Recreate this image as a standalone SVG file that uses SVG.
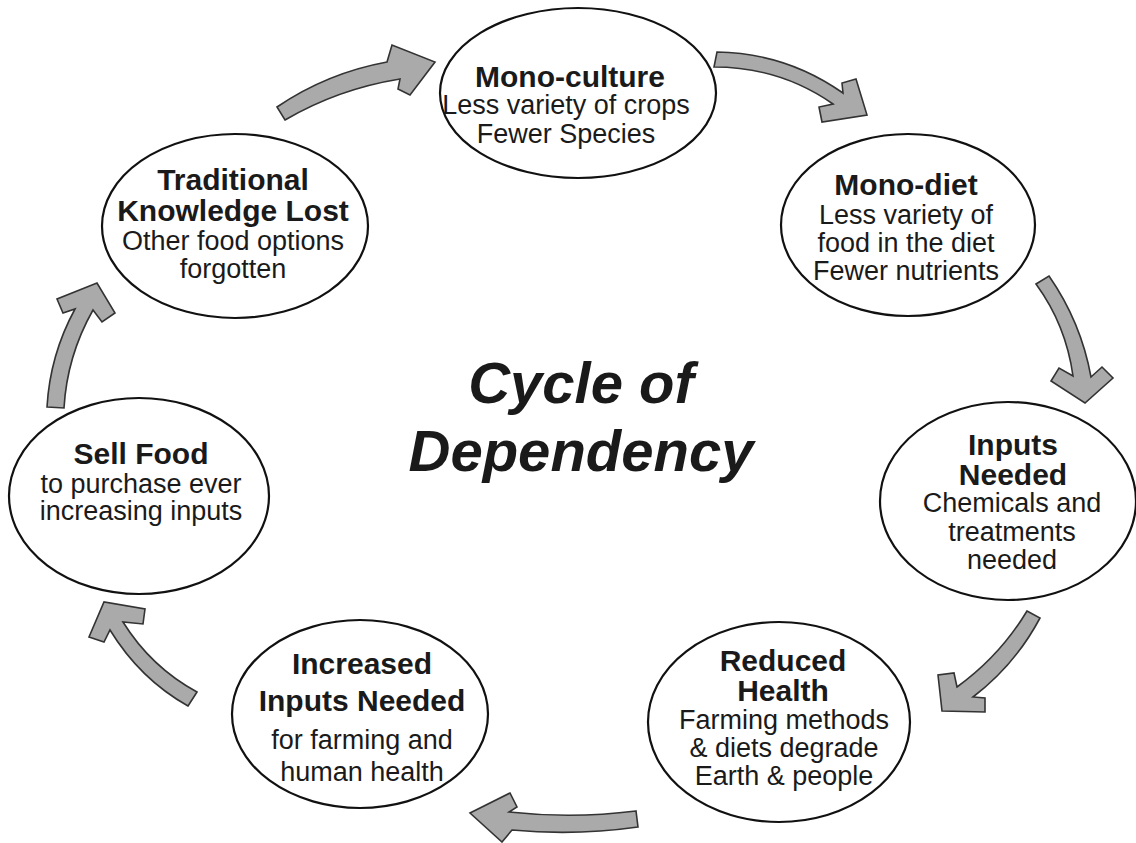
<svg xmlns="http://www.w3.org/2000/svg" width="1136" height="843" viewBox="0 0 1136 843">
<style>
.node ellipse{fill:#fff;stroke:#111;stroke-width:2.2}
.b{font-family:"Liberation Sans",Arial,sans-serif;font-weight:bold;font-size:30px;fill:#1a1a1a;text-anchor:middle}
.r{font-family:"Liberation Sans",Arial,sans-serif;font-size:27px;fill:#1a1a1a;text-anchor:middle}
.arrow{fill:#aaaaaa;stroke:#333;stroke-width:1.6;stroke-linejoin:miter}
.title{font-family:"Liberation Sans",Arial,sans-serif;font-weight:bold;font-style:italic;font-size:58px;fill:#1a1a1a;text-anchor:middle}
</style>
<rect width="1136" height="843" fill="#fff"/>
<g id="connectors">
<path class="arrow" d="M277,107 Q327,73 387,62 L392,45 L435,62 L410,95 L398,89 L400,79 Q338,89 285,120 Z"/>
<path class="arrow" d="M717,52 Q786,53 843,93 L842,83 L856,79 L867,115 L822,122 L819,107 L833,104 Q780,67 714,67 Z"/>
<path class="arrow" d="M1036,284 L1049,276 Q1081,322 1091,377 L1102,367 L1113,378 L1085,403 L1051,381 L1059,368 L1073,376 Q1066,325 1036,284 Z"/>
<path class="arrow" d="M1027,611 L1040,618 Q1015,665 973,697 L985,698 L985,712 L942,711 L938,675 L954,673 L957,687 Q1000,656 1027,611 Z"/>
<path class="arrow" d="M636,811 Q573,819 509,812 L517,807 L510,793 L470,813 L502,842 L512,830 Q575,836 638,827 Z"/>
<path class="arrow" d="M188,706 L197,692 Q151,667 123,622 L143,624 L145,609 L104,602 L89,637 L104,642 L110,630 Q140,679 188,706 Z"/>
<path class="arrow" d="M47,407 L64,408 Q67,356 93,310 L102,322 L115,313 L97,283 L57,299 L63,313 L75,309 Q50,355 47,407 Z"/>
</g>
<g id="node-monoculture" class="node">
<ellipse cx="578" cy="93" rx="138" ry="85"/>
<text class="b" x="570" y="87">Mono-culture</text>
<text class="r" x="566" y="114">Less variety of crops</text>
<text class="r" x="566" y="143">Fewer Species</text>
</g>
<g id="node-monodiet" class="node">
<ellipse cx="908" cy="225" rx="127" ry="91"/>
<text class="b" x="906" y="195">Mono-diet</text>
<text class="r" x="906" y="224">Less variety of</text>
<text class="r" x="906" y="252">food in the diet</text>
<text class="r" x="906" y="280">Fewer nutrients</text>
</g>
<g id="node-inputs" class="node">
<ellipse cx="1008" cy="501" rx="128" ry="99"/>
<text class="b" x="1013" y="455">Inputs</text>
<text class="b" x="1013" y="485">Needed</text>
<text class="r" x="1012" y="512">Chemicals and</text>
<text class="r" x="1012" y="541">treatments</text>
<text class="r" x="1012" y="569">needed</text>
</g>
<g id="node-health" class="node">
<ellipse cx="779" cy="722" rx="131" ry="100"/>
<text class="b" x="783" y="671">Reduced</text>
<text class="b" x="783" y="701">Health</text>
<text class="r" x="784" y="729">Farming methods</text>
<text class="r" x="784" y="757">&amp; diets degrade</text>
<text class="r" x="784" y="785">Earth &amp; people</text>
</g>
<g id="node-increased" class="node">
<ellipse cx="360" cy="714" rx="128" ry="94"/>
<text class="b" x="362" y="674">Increased</text>
<text class="b" x="362" y="711">Inputs Needed</text>
<text class="r" x="362" y="749">for farming and</text>
<text class="r" x="362" y="781">human health</text>
</g>
<g id="node-sell" class="node">
<ellipse cx="139" cy="496" rx="130" ry="98"/>
<text class="b" x="141" y="464">Sell Food</text>
<text class="r" x="141" y="493">to purchase ever</text>
<text class="r" x="141" y="520">increasing inputs</text>
</g>
<g id="node-traditional" class="node">
<ellipse cx="235" cy="226" rx="133" ry="92"/>
<text class="b" x="233" y="190">Traditional</text>
<text class="b" x="233" y="221">Knowledge Lost</text>
<text class="r" x="233" y="250">Other food options</text>
<text class="r" x="233" y="278">forgotten</text>
</g>
<g id="title">
<text class="title" x="581" y="403">Cycle of</text>
<text class="title" x="581" y="471">Dependency</text>
</g>
</svg>
